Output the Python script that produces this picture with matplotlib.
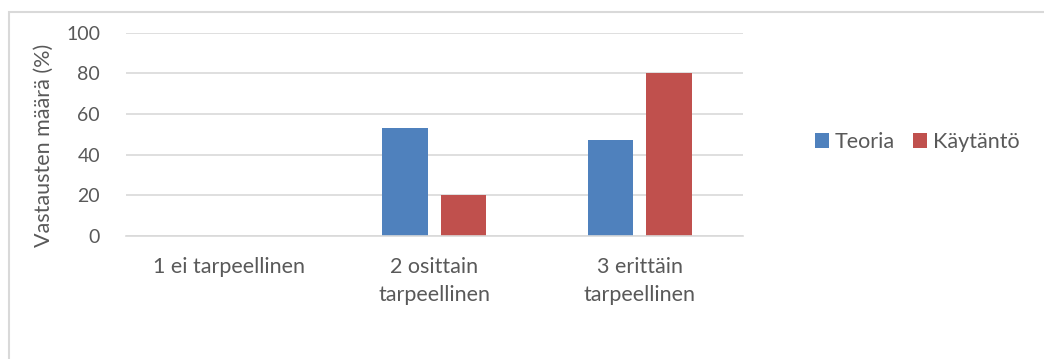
import matplotlib
matplotlib.use("Agg")
import matplotlib.pyplot as plt
from matplotlib.patches import Rectangle, Patch
import numpy as np

categories = ["1 ei tarpeellinen", "2 osittain\ntarpeellinen", "3 erittäin\ntarpeellinen"]
series_names = ["Teoria", "Käytäntö"]
teoria = [0, 53, 47]
kaytanto = [0, 20, 80]
yticks = [0, 20, 40, 60, 80, 100]

colors = ["#4f81bd", "#c0504d"]
text_color = "#595959"
grid_color = "#d9d9d9"

plt.rcParams["font.family"] = ["Lato", "DejaVu Sans"]

W, H = 1044, 359
fig = plt.figure(figsize=(W / 100, H / 100), dpi=100)

# outer chart border (continues past the right and bottom edges)
fig.patches.append(Rectangle((9 / W, -0.1), 1.2, (H - 12) / H + 0.1,
                             transform=fig.transFigure, fill=False,
                             edgecolor=grid_color, linewidth=1.5))

left, right = 125.8 / W, 742.6 / W
top, bottom = (H - 32.5) / H, (H - 236) / H
ax = fig.add_axes([left, bottom, right - left, top - bottom])

x = np.arange(len(categories))
width = 0.222
offset = 0.143
ax.bar(x - offset, teoria, width, color=colors[0], label=series_names[0], zorder=3)
ax.bar(x + offset, kaytanto, width, color=colors[1], label=series_names[1], zorder=3)

ax.set_xlim(-0.5, len(categories) - 0.5)
ax.set_ylim(0, 100)
ax.set_yticks(yticks)
ax.set_yticklabels([str(v) for v in yticks])
ax.set_xticks(x)
ax.set_xticklabels(categories, linespacing=1.5)

ax.grid(axis="y", color=grid_color, linewidth=1.2, zorder=0)
for s in ["top", "right", "left"]:
    ax.spines[s].set_visible(False)
ax.spines["bottom"].set_color(grid_color)
ax.spines["bottom"].set_linewidth(1.2)
ax.spines["bottom"].set_zorder(4)
ax.tick_params(axis="both", length=0, colors=text_color)
ax.tick_params(axis="y", pad=18.5, labelsize=14)
ax.tick_params(axis="x", pad=15, labelsize=15.5)

ax.set_ylabel("Vastausten määrä (%)", color=text_color, fontsize=15.5)
ax.yaxis.set_label_coords(-0.117, 0.444)

handles = [Patch(facecolor=c, label=n) for c, n in zip(colors, series_names)]
fig.legend(handles=handles, loc="center left", bbox_to_anchor=(815 / W, (H - 142) / H),
           ncol=2, frameon=False, fontsize=15.5, labelcolor=text_color,
           handlelength=0.65, handleheight=0.65, handletextpad=0.28, columnspacing=0.84,
           borderaxespad=0, borderpad=0)

fig.savefig("out.png", dpi=100)
